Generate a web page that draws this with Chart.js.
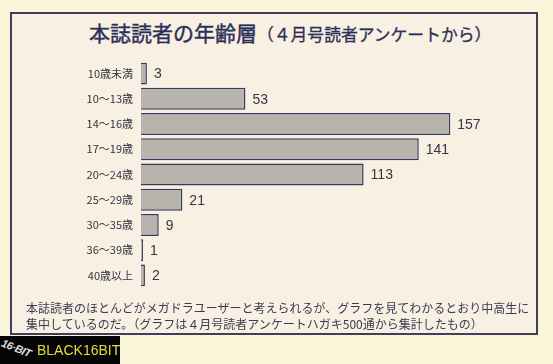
<!DOCTYPE html>
<html><head><meta charset="utf-8">
<script src="https://cdn.jsdelivr.net/npm/chart.js@4/dist/chart.umd.min.js"></script>
<style>
html,body{margin:0;padding:0;}
body{width:553px;height:364px;background:#faf4d8;position:relative;overflow:hidden;font-family:"Noto Sans CJK JP","Noto Sans",sans-serif;}
#frame{position:absolute;box-sizing:border-box;left:10px;top:12px;width:528px;height:323px;border:2px solid #3d3f5c;background:#f8f0e2;}
#title{position:absolute;left:89px;top:19px;color:#2c2f58;white-space:nowrap;line-height:26px;}
#title .m{font-size:21px;font-weight:400;-webkit-text-stroke:0.4px #2c2f58;}
#title .s{font-size:16.8px;font-weight:400;-webkit-text-stroke:0.3px #2c2f58;}
#wrap{position:absolute;left:0;top:0;width:553px;height:364px;}
#note{position:absolute;left:26px;top:300px;font-size:12px;line-height:16px;color:#3a3b50;white-space:nowrap;}
#logo{position:absolute;left:0;top:336px;width:120px;height:28px;background:#050505;}
#logo .b{position:absolute;left:37px;top:6px;font-family:"Liberation Sans",Arial,sans-serif;font-size:14px;color:#e3dc3c;}
#logo .i{position:absolute;left:1px;top:6px;font-family:"Liberation Sans",Arial,sans-serif;font-size:11px;font-weight:bold;font-style:italic;color:#ddd;transform:rotate(22deg);letter-spacing:-0.5px;}
</style></head>
<body>
<div id="frame"></div>
<div id="title"><span class="m">本誌読者の年齢層</span><span class="s">（４月号読者アンケートから）</span></div>
<div id="wrap"><canvas id="c" width="553" height="364"></canvas></div>
<div id="note">本誌読者のほとんどがメガドラユーザーと考えられるが、グラフを見てわかるとおり中高生に<br>集中しているのだ。（グラフは４月号読者アンケートハガキ500通から集計したもの）</div>
<div id="logo"><span class="i">16·BIT</span><span class="b">BLACK16BIT</span></div>
<script>
const categories = ["10歳未満","10～13歳","14～16歳","17～19歳","20～24歳","25～29歳","30～35歳","36～39歳","40歳以上"];
const readers = [3,53,157,141,113,21,9,1,2];

const valueLabels = {
  id:'valueLabels',
  afterDatasetsDraw(chart){
    const ctx = chart.ctx;
    const meta = chart.getDatasetMeta(0);
    ctx.save();
    ctx.font = '14px "Liberation Sans", Arial, sans-serif';
    ctx.fillStyle = '#353545';
    ctx.textBaseline = 'middle';
    ctx.textAlign = 'left';
    meta.data.forEach((bar,i)=>{
      ctx.fillText(String(readers[i]), bar.x + 7, bar.y + 1);
    });
    ctx.restore();
  }
};

new Chart(document.getElementById('c'),{
  type:'bar',
  data:{labels:categories,datasets:[{data:readers,backgroundColor:'#b7b3ad',borderColor:'#363a62',borderWidth:1.5,barPercentage:0.87,categoryPercentage:1}]},
  options:{
    indexAxis:'y',responsive:false,animation:false,
    layout:{padding:{left:0,right:18,top:61,bottom:76}},
    plugins:{legend:{display:false},tooltip:{enabled:false}},
    scales:{
      x:{display:false,min:0,max:200},
      y:{grid:{display:false,drawTicks:false},border:{display:false},
         ticks:{padding:8,color:'#333340',font:{size:11,family:'"Noto Sans CJK JP", sans-serif'}},
         afterFit(s){s.width=141;}}
    }
  },
  plugins:[valueLabels]
});
</script>
</body></html>
